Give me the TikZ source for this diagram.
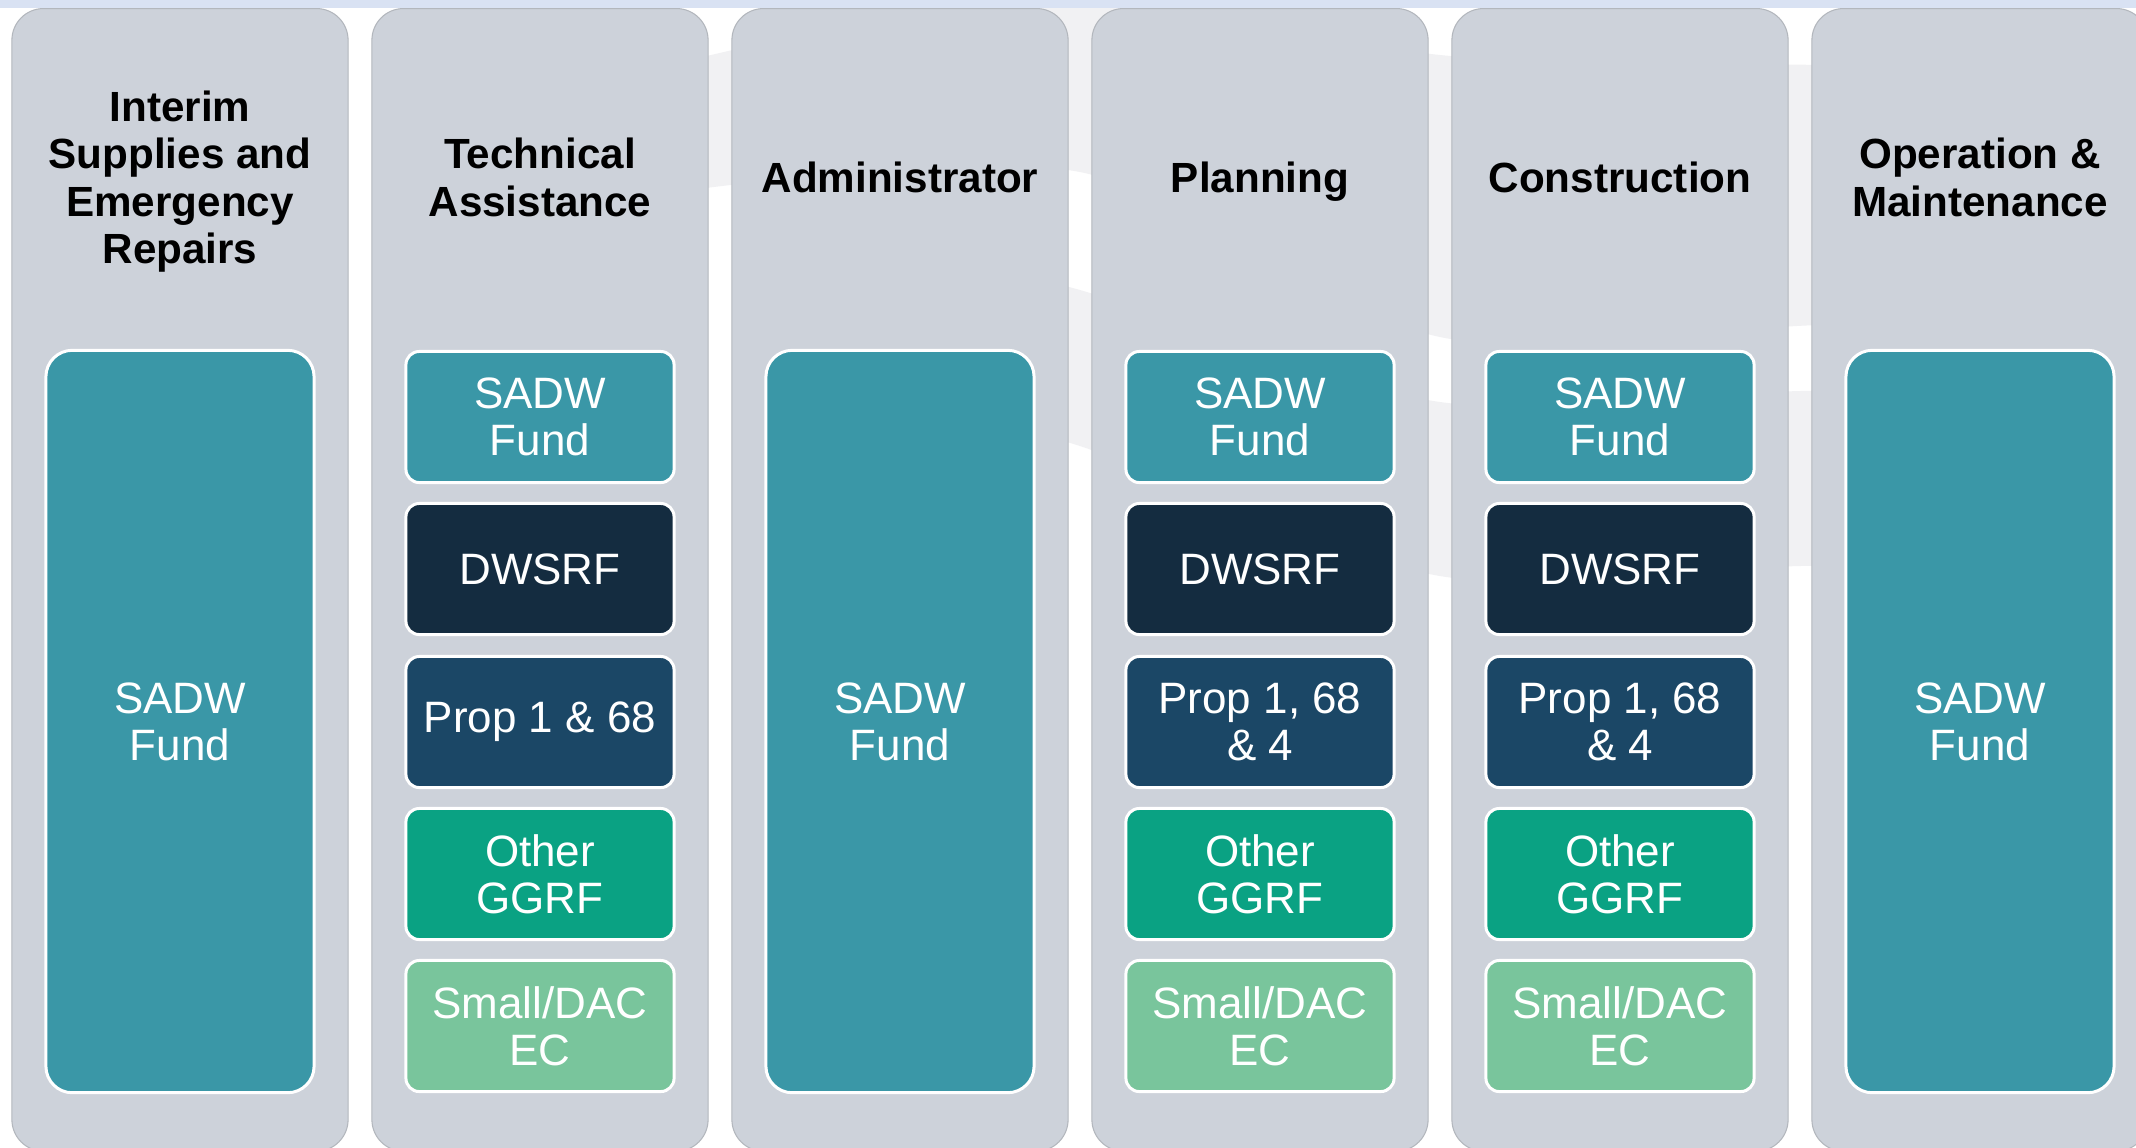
\documentclass[tikz,border=0pt]{standalone}
\usepackage{fontspec}
\setmainfont{Liberation Sans}
\usepackage{xcolor}
\usepackage{tikz}

\definecolor{grigio}{HTML}{CDD2DA}
\definecolor{bordo}{HTML}{B3B7BD}
\definecolor{fascia}{HTML}{D9E2F3}
\definecolor{filigrana}{HTML}{F1F1F3}
\definecolor{sadw}{HTML}{3A97A7}
\definecolor{dwsrf}{HTML}{142C40}
\definecolor{prop}{HTML}{1B4766}
\definecolor{ggrf}{HTML}{0AA283}
\definecolor{smalldac}{HTML}{79C59C}

\begin{document}
\begin{tikzpicture}[x=0.01cm, y=-0.01cm,
    colonna/.style={fill=grigio, draw=bordo, line width=0.3pt, rounded corners=9pt,
        minimum width=3.36cm, minimum height=11.42cm, anchor=north, inner sep=0pt},
    titolo/.style={align=center, text depth=0pt, font=\bfseries\fontsize{12}{13.5}\selectfont},
    casella/.style={draw=white, line width=0.85pt, rounded corners=3.8pt, text=white,
        minimum width=2.68cm, minimum height=1.31cm, inner sep=0pt, align=center,
        font=\fontsize{12.5}{13.4}\selectfont},
    grande/.style={casella, fill=sadw, rounded corners=7.5pt, minimum height=7.42cm}]

        % Sfondo
        \useasboundingbox (0,0) rectangle (2136,1147);
        \clip (0,0) rectangle (2136,1147);
        \fill[white] (0,0) rectangle (2136,1147);

        % Filigrana
        \fill[filigrana] plot[smooth] coordinates {(690,60) (1080,-10) (1440,55) (1820,65) (2140,70)}
            -- plot[smooth] coordinates {(2140,320) (1820,325) (1440,337) (1080,172) (690,190)} -- cycle;
        \fill[filigrana] plot[smooth] coordinates {(990,275) (1080,290) (1440,402) (1800,391) (2140,385)}
            -- plot[smooth] coordinates {(2140,560) (1800,566) (1440,576) (1080,446) (990,430)} -- cycle;

        % Fascia in alto
        \fill[fascia] (0,0) rectangle (2136,8);

        % Colonne e titoli
        \foreach \i/\testo in {1/{Interim\\Supplies and\\Emergency\\Repairs}, 2/{Technical\\Assistance},
                3/Administrator, 4/Planning, 5/Construction, 6/{Operation \&\\Maintenance}} {
            \node[colonna] (col\i) at ({360*\i-180},8) {};
            \node[titolo] (tit\i) at ({360*\i-180},177) {\testo};
        }

        % Caselle grandi
        \foreach \i in {1,3,6} {
            \node[grande] (fondo\i) at ({360*\i-180},721.5) {SADW\\Fund};
        }

        % Caselle piccole
        \foreach \i/\prop in {2/{Prop 1 \& 68}, 4/{Prop 1, 68\\\& 4}, 5/{Prop 1, 68\\\& 4}} {
            \node[casella, fill=sadw] (sadw\i) at ({360*\i-180},417) {SADW\\Fund};
            \node[casella, fill=dwsrf] (dwsrf\i) at ({360*\i-180},569) {DWSRF};
            \node[casella, fill=prop] (prop\i) at ({360*\i-180},722) {\prop};
            \node[casella, fill=ggrf] (ggrf\i) at ({360*\i-180},874) {Other\\GGRF};
            \node[casella, fill=smalldac] (ec\i) at ({360*\i-180},1026) {Small/DAC\\EC};
        }
    \end{tikzpicture}
\end{document}
